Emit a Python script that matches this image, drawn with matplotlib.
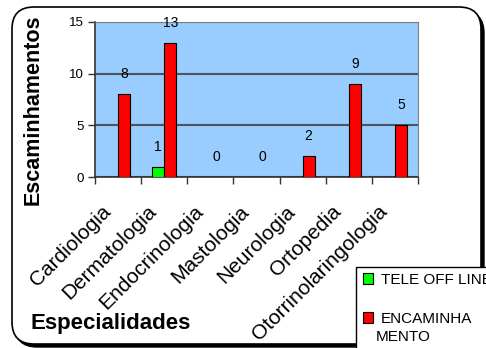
import numpy as np
import matplotlib.pyplot as plt
import matplotlib.patches as mpatches
import matplotlib.transforms as mtransforms

categorias = ['Cardiologia', 'Dermatologia', 'Endocrinologia', 'Mastologia',
              'Neurologia', 'Ortopedia', 'Otorrinolaringologia']
tele_off_line = [0, 1, 0, 0, 0, 0, 0]
encaminhamento = [8, 13, 0, 0, 2, 9, 5]
y_ticks = [0, 5, 10, 15]

plt.rcParams['font.family'] = ['Liberation Sans', 'DejaVu Sans']

fig = plt.figure(figsize=(4.86, 3.48), dpi=100)

# rounded frame with shadow
shadow = mpatches.FancyBboxPatch((0.15, 0.01), 4.69, 3.36,
                                 boxstyle='round,pad=0,rounding_size=0.22',
                                 transform=fig.dpi_scale_trans,
                                 facecolor='black', edgecolor='black', zorder=0)
frame = mpatches.FancyBboxPatch((0.12, 0.04), 4.69, 3.37,
                                boxstyle='round,pad=0,rounding_size=0.22',
                                transform=fig.dpi_scale_trans,
                                facecolor='white', edgecolor='black', lw=1.2, zorder=1)
fig.patches.extend([shadow, frame])

ax = fig.add_axes([95 / 486, 1 - 177 / 348, 323 / 486, 155 / 348])
ax.set_zorder(2)
ax.set_facecolor('#99CCFF')

x = np.arange(len(categorias))
w = 0.26
b1 = ax.bar(x - w / 2, tele_off_line, w, color='#00FF00', edgecolor='black', lw=0.8,
            label='TELE OFF LINE', zorder=3)
b2 = ax.bar(x + w / 2, encaminhamento, w, color='#FF0000', edgecolor='black', lw=0.8,
            label='ENCAMINHA', zorder=3)

for xi, v in zip(x, tele_off_line):
    if v > 0:
        ax.annotate(str(v), (xi - w / 2, v), xytext=(0, 14.5), textcoords='offset points',
                    ha='center', va='center', fontsize=10)
for xi, v in zip(x, encaminhamento):
    ax.annotate(str(v), (xi + w / 2, v), xytext=(0, 14.5), textcoords='offset points',
                ha='center', va='center', fontsize=10)

ax.set_xlim(-0.5, len(categorias) - 0.5)
ax.set_ylim(0, 15)
ax.set_yticks(y_ticks)
ax.yaxis.grid(True, color='#4a5560', lw=1.5)
ax.set_axisbelow(True)
ax.tick_params(axis='y', labelsize=9.5, length=5, width=1, color='#333333', pad=3)

ax.set_xticks(np.arange(-0.5, len(categorias)), minor=True)
ax.set_xticks(x)
ax.set_xticklabels(categorias, rotation=45, ha='right', rotation_mode='anchor', fontsize=15)
ax.tick_params(axis='x', which='major', length=0, pad=12)
ax.tick_params(axis='x', which='minor', length=5, width=1, color='#333333')
shift = mtransforms.ScaledTranslation(-0.17, -0.08, fig.dpi_scale_trans)
for lbl in ax.get_xticklabels():
    lbl.set_transform(lbl.get_transform() + shift)

for s in ['top', 'right']:
    ax.spines[s].set_color('#808080')
for s in ['left', 'bottom']:
    ax.spines[s].set_color('#333333')
    ax.spines[s].set_linewidth(1.2)

fig.text(33 / 486, 1 - 110 / 348, 'Escaminhamentos', rotation=90, ha='center', va='center',
         fontsize=15.5, fontweight='bold')
fig.text(31 / 486, 1 - 323 / 348, 'Especialidades', ha='left', va='center',
         fontsize=16, fontweight='bold')

# legend box (runs off the right and bottom edges like the original)
legbox = mpatches.Rectangle((356 / 486, -0.02), 0.4, 0.02 + 1 - 267 / 348,
                            transform=fig.transFigure, facecolor='white',
                            edgecolor='black', lw=1, zorder=4)
fig.patches.append(legbox)
leg = fig.legend(handles=[b1, b2], loc='upper left', bbox_to_anchor=(358 / 486, 1 - 268 / 348),
                 fontsize=11, frameon=False,
                 handlelength=0.7, handleheight=0.7, handletextpad=0.5,
                 labelspacing=1.65, borderpad=0.3, borderaxespad=0)
leg.set_zorder(5)
fig.text(376 / 486, 1 - 337 / 348, 'MENTO', ha='left', va='center', fontsize=11, zorder=6)

fig.savefig('out.png', dpi=100)
